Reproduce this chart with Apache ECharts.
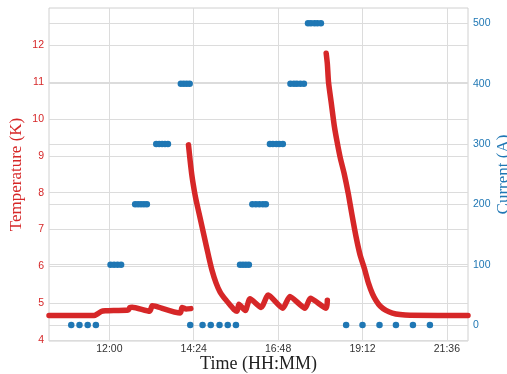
<!DOCTYPE html>
<html>
<head>
<meta charset="utf-8">
<script src="https://cdn.jsdelivr.net/npm/echarts@6/dist/echarts.min.js"></script>
<style>
html,body{margin:0;padding:0;background:#fff;}
#chart{width:507px;height:374px;}
</style>
</head>
<body>
<div id="chart"></div>
<script>
// Times are minutes since midnight
const xTicks = [720, 864, 1008, 1152, 1296];
const tempTicks = [4, 5, 6, 7, 8, 9, 10, 11, 12];
const currentTicks = [0, 100, 200, 300, 400, 500];

// Temperature, steady segment before first ramp
const tempA_t = [617, 694, 699, 706, 713, 730, 752, 755, 759, 789, 793, 798, 841, 844, 851, 859];
const tempA_v = [4.66, 4.66, 4.70, 4.77, 4.79, 4.80, 4.81, 4.88, 4.89, 4.78, 4.93, 4.92, 4.73, 4.88, 4.84, 4.85];
// Temperature, first decay + sawtooth
const tempB_t = [855, 858, 861, 865, 868, 875, 882, 889, 895, 902, 909, 918, 926, 933, 938, 941, 952, 960, 979, 991, 1016, 1028, 1054, 1063, 1090, 1092];
const tempB_v = [9.30, 8.85, 8.45, 8.05, 7.80, 7.30, 6.80, 6.30, 5.90, 5.55, 5.30, 5.10, 4.95, 4.82, 4.78, 4.97, 4.80, 5.12, 4.88, 5.22, 4.86, 5.18, 4.86, 5.13, 4.86, 5.08];
// Temperature, second decay
const tempC_t = [1090, 1092, 1094, 1099, 1104, 1109, 1114, 1121, 1128, 1134, 1141, 1148, 1155, 1162, 1169, 1175, 1182, 1192, 1203, 1216, 1233, 1332];
const tempC_v = [11.79, 11.50, 11.00, 10.40, 9.80, 9.35, 8.95, 8.50, 7.95, 7.40, 6.80, 6.30, 5.95, 5.55, 5.25, 5.07, 4.92, 4.80, 4.73, 4.69, 4.67, 4.66];

// Current
const currentTimes = [655, 669, 683, 697,
  722, 728, 734, 740,
  764, 769, 774, 779, 784,
  800, 805, 810, 815, 820,
  842, 847, 852, 857,
  858, 879, 893, 908, 922, 936,
  943, 948, 953, 958,
  964, 970, 976, 982, 987,
  994, 999, 1005, 1010, 1016,
  1029, 1035, 1040, 1046, 1052,
  1059, 1064, 1070, 1075, 1081,
  1124, 1152, 1181, 1209, 1238, 1267];
const currentValues = [0, 0, 0, 0,
  100, 100, 100, 100,
  200, 200, 200, 200, 200,
  300, 300, 300, 300, 300,
  400, 400, 400, 400,
  0, 0, 0, 0, 0, 0,
  100, 100, 100, 100,
  200, 200, 200, 200, 200,
  300, 300, 300, 300, 300,
  400, 400, 400, 400, 400,
  500, 500, 500, 500, 500,
  0, 0, 0, 0, 0, 0];

const zip = (a, b) => a.map((v, i) => [v, b[i]]);
const fmt = v => {
  const h = Math.floor(v / 60), m = Math.round(v % 60);
  return String(h).padStart(2, '0') + ':' + String(m).padStart(2, '0');
};

const RED = '#d62728', BLUE = '#1f77b4', GRID = '#dcdcdc';
const chart = echarts.init(document.getElementById('chart'), null, {renderer: 'canvas'});
const tempLine = (t, v) => ({
  type: 'line', xAxisIndex: 0, yAxisIndex: 0, data: zip(t, v),
  showSymbol: false, clip: false, z: 2, smooth: 0.2,
  lineStyle: {color: RED, width: 5.5, cap: 'round', join: 'round'},
  itemStyle: {color: RED}
});

chart.setOption({
  animation: false,
  backgroundColor: '#fff',
  grid: {left: 49, right: 39, top: 8, bottom: 33, show: true, borderColor: '#d0d0d0', borderWidth: 1,
         containLabel: false, outerBoundsMode: 'none'},
  xAxis: [{
    type: 'value', min: 617, max: 1332,
    axisLine: {show: false}, axisTick: {show: false, customValues: xTicks},
    axisLabel: {customValues: xTicks, formatter: fmt, color: '#333', fontFamily: 'Liberation Sans', fontSize: 10.5, margin: 3},
    splitLine: {show: true, lineStyle: {color: GRID, width: 1}},
    name: 'Time (HH:MM)', nameLocation: 'middle', nameGap: 14, nameMoveOverlap: false,
    nameTextStyle: {fontFamily: 'Liberation Serif', fontSize: 18, color: '#222'}
  }],
  yAxis: [{
    type: 'value', min: 3.97, max: 13.02, position: 'left',
    axisLine: {show: false}, axisTick: {show: false, customValues: tempTicks},
    axisLabel: {customValues: tempTicks, color: RED, fontFamily: 'Liberation Sans', fontSize: 10.5, margin: 5},
    splitLine: {show: true, lineStyle: {color: GRID, width: 1}},
    name: 'Temperature (K)', nameLocation: 'middle', nameGap: 24, nameMoveOverlap: false,
    nameTextStyle: {fontFamily: 'Liberation Serif', fontSize: 17, color: RED}
  }, {
    type: 'value', min: -26.5, max: 525.4, position: 'right',
    axisLine: {show: false}, axisTick: {show: false, customValues: currentTicks},
    axisLabel: {customValues: currentTicks, color: BLUE, fontFamily: 'Liberation Sans', fontSize: 10.5, margin: 5},
    splitLine: {show: true, lineStyle: {color: GRID, width: 1}},
    name: 'Current (A)', nameLocation: 'middle', nameGap: 27, nameMoveOverlap: false,
    nameTextStyle: {fontFamily: 'Liberation Serif', fontSize: 17, color: BLUE}
  }],
  series: [
    tempLine(tempA_t, tempA_v),
    tempLine(tempB_t, tempB_v),
    tempLine(tempC_t, tempC_v),
    {
      type: 'scatter', xAxisIndex: 0, yAxisIndex: 1, data: zip(currentTimes, currentValues),
      symbolSize: 6.5, z: 3, itemStyle: {color: BLUE, opacity: 1}
    }
  ]
});
</script>
</body>
</html>
